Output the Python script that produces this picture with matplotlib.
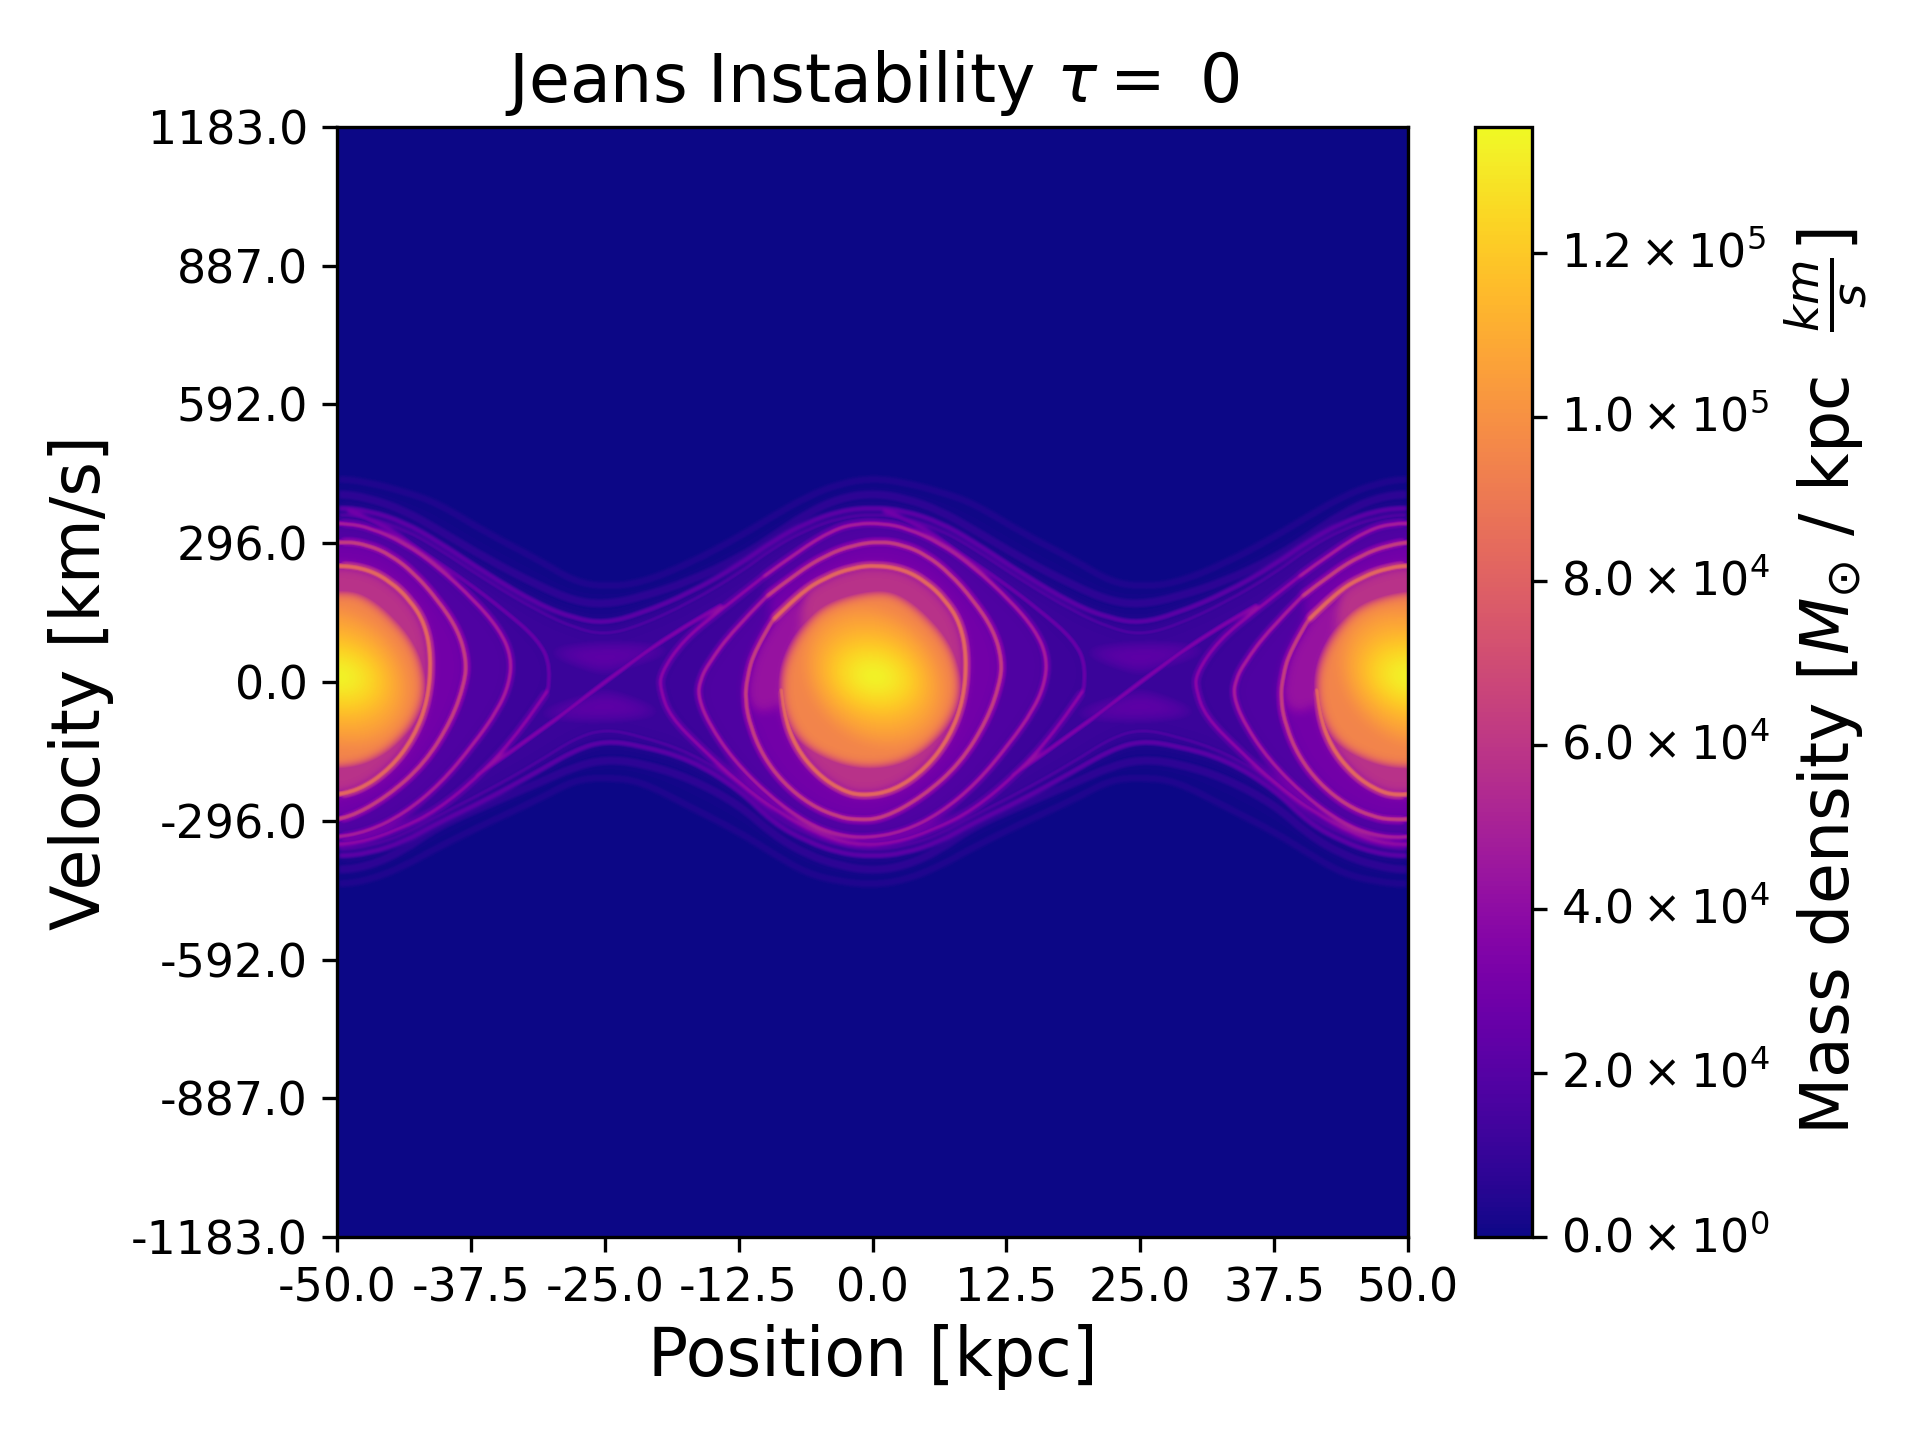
import numpy as np
import matplotlib
matplotlib.use('Agg')
import matplotlib.pyplot as plt
from matplotlib.path import Path
from matplotlib.patches import PathPatch, Ellipse
from matplotlib.transforms import ScaledTranslation

# spiral arm of the central island, one list per turn
turn0_x = [0.7,-4.3,-6.5,-8,-8.5,-8.3,-7.2,-5.2,-3,-1,2,5,7.2,8.5,8.8,8.2,6.8,5,2.9,0.4]
turn0_v = [185,157,104,47,-10,-67,-138,-195,-230,-243,-232,-184,-117,-38,54,125,175,214,240,249]
turn1_x = [0.4,-1.8,-4.3,-6.8,-9.3,-11,-11.7,-11.9,-11.4,-10.2,-8.3,-5.8,-3.3,-1.5,1,4.7,8.2,10.7,11.9,12.1,11.3,9.4,7.2,5,2.9,0.7]
turn1_v = [249,244,224,189,132,68,11,-38,-95,-159,-216,-262,-287,-294,-291,-244,-173,-81,-3,47,111,175,232,271,292,300]
turn2_x = [0.7,-1.8,-4.3,-7.1,-9.9,-13,-15.3,-16.1,-16.3,-15.3,-13,-9.6,-6.1,-3.3,-0.5,2.9,6.3,9.7,12.8,15,16.1,16.3,15.2,12.8,9.4,6.3,3.2,1]
turn2_v = [300,292,271,232,182,111,40,4,-31,-88,-166,-244,-301,-326,-333,-319,-280,-216,-131,-60,-3,54,111,175,246,296,328,338]
turn3_x = [1,-1.5,-3.7,-6.8,-10.2,-14.2,-17.7,-19.8,-19.8,-18.9,-15.8,-12.4,-8.6,-5.2,-1.8,1.9,5.7,9.4,13.5,17.2,19.7,20,18.8,15.6,11.9,8.2,4.7,1]
turn3_v = [338,338,324,281,224,153,89,18,-17,-74,-145,-216,-280,-323,-347,-344,-315,-273,-195,-102,-17,33,90,153,217,274,331,367]
trough_d = [5.8e4, 3.0e4, 1.8e4, 1.2e4]
ridge_d = [8.6e4, 6.8e4, 5.3e4, 4.3e4]
ridge_lw = [1.6, 1.4, 1.3, 1.2]
glow_lw = [3.0, 2.8, 2.6, 2.6]
glow_d = [6.5e4, 4.5e4, 3.2e4, 2.6e4]
turn3_end_d = 3.0e4
fade_x = [-6.8,-9.3,-11,-11.7,-11.9,-10.5,-8.3,-8,-6.5]
fade_v = [189,132,68,11,-38,-70,-50,47,104]
fade_d = 4.3e4

# core contours
core_edge_x = [0.7,-4.6,-7,-8.5,-8.9,-8.5,-7.1,-4.9,-1.7,1.6,4.2,6.3,7.8,8.5,8.3,7.4,5.7,3.2]
core_edge_v = [205,175,115,50,-10,-72,-130,-165,-190,-188,-165,-125,-76,-25,32,85,135,185]
core_edge_d = 9.5e4
core_d = [1.0e5,1.03e5,1.06e5,1.09e5,1.12e5,1.15e5,1.18e5,1.21e5,1.24e5,1.27e5,1.30e5,1.32e5,1.34e5]
core_w = [13,12.2,11.4,10.6,9.8,9,8.2,7.4,6.5,5.4,4.2,3,1.8]
core_h = [300,280,255,230,205,180,160,140,118,95,72,48,26]

# open wave bands, one period between two X points
wave_x = [-25,-21.7,-17,-12.4,-9.3,-6.1,-3,0,3,6.3,9.4,14,18.8,22.2,25]
wave0_up = [203,210,253,310,353,395,423,434,425,405,381,317,260,213,203]
wave0_lo = [-203,-210,-266,-320,-365,-408,-425,-432,-422,-392,-352,-300,-250,-208,-203]
wave1_up = [165,180,215,265,310,360,392,402,392,365,325,262,205,172,165]
wave1_lo = [-165,-172,-205,-262,-325,-368,-392,-402,-392,-358,-308,-262,-215,-180,-165]
wave2_up = [125,145,190,250,300,340,365,372,365,340,300,230,165,135,125]
wave2_lo = [-125,-135,-165,-230,-300,-340,-365,-372,-365,-340,-300,-250,-190,-145,-125]
wave3_up = [100,120,170,232,285,325,350,358,350,325,285,215,150,115,100]
wave3_lo = [-100,-115,-150,-215,-285,-325,-350,-358,-350,-325,-285,-232,-170,-120,-100]
wave_fill_d = [1.0e3, 2.0e3, 0.9e4, 1.1e4]
wave_line_d = [0.45e4, 0.8e4, 2.5e4, 2.2e4]
wave_lw = [1.6, 2.0, 1.2, 1.0]

# around the X point
streak_x = [-37,-31,-25,-19,-14]
streak_v = [-200,-105,0,100,165]
streak_d = 3.8e4
lobe_up_x = [-32,-28,-25,-21,-17,-20,-23,-25,-28]
lobe_up_v = [70,85,90,88,75,45,25,10,30]
lobe_lo_x = [-33,-29,-25,-22,-18,-22,-25,-27,-30]
lobe_lo_v = [-75,-88,-90,-85,-70,-30,-10,-25,-45]
lobe_d = 2.4e4

x_ticks = [-50,-37.5,-25,-12.5,0,12.5,25,37.5,50]
v_ticks = [-1183,-887,-592,-296,0,296,592,887,1183]
cbar_ticks = [0,2e4,4e4,6e4,8e4,1e5,1.2e5]
cbar_labels = [r'$0.0\times10^{0}$',r'$2.0\times10^{4}$',r'$4.0\times10^{4}$',r'$6.0\times10^{4}$',
               r'$8.0\times10^{4}$',r'$1.0\times10^{5}$',r'$1.2\times10^{5}$']
d_max = 1.354e5


def smooth(x, v, close=False):
    # quadratic spline using the read points as control points
    pts = np.column_stack([x, v]).astype(float)
    if close:
        n = len(pts)
        verts = [(pts[-1]+pts[0])/2]
        codes = [Path.MOVETO]
        for i in range(n):
            verts += [pts[i], (pts[i]+pts[(i+1) % n])/2]
            codes += [Path.CURVE3, Path.CURVE3]
        verts.append(verts[0])
        codes.append(Path.CLOSEPOLY)
        return Path(verts, codes)
    verts = [pts[0]]
    codes = [Path.MOVETO]
    for i in range(1, len(pts)-1):
        end = pts[i+1] if i == len(pts)-2 else (pts[i]+pts[i+1])/2
        verts += [pts[i], end]
        codes += [Path.CURVE3, Path.CURVE3]
    return Path(verts, codes)


def grey(d):
    g = d/d_max
    return (g, g, g)


def new_layer():
    f = plt.figure(figsize=(1071/300, 1110/300), dpi=300)
    a = f.add_axes([0, 0, 1, 1])
    a.set_xlim(-50, 50)
    a.set_ylim(-1183, 1183)
    a.set_facecolor('black')
    return f, a


def read_layer(f):
    f.canvas.draw()
    out = np.asarray(f.canvas.buffer_rgba())[:, :, 0]/255.0*d_max
    plt.close(f)
    return out


def blur(img, sigma):
    r = int(3*sigma)+1
    k = np.exp(-0.5*(np.arange(-r, r+1)/sigma)**2)
    k = k/k.sum()
    out = np.pad(img, r, mode='edge')
    out = np.apply_along_axis(lambda c: np.convolve(c, k, mode='same'), 0, out)
    out = np.apply_along_axis(lambda c: np.convolve(c, k, mode='same'), 1, out)
    return out[r:-r, r:-r]


turns_x = [turn0_x, turn1_x, turn2_x, turn3_x]
turns_v = [turn0_v, turn1_v, turn2_v, turn3_v]
ups = [wave0_up, wave1_up, wave2_up, wave3_up]
los = [wave0_lo, wave1_lo, wave2_lo, wave3_lo]
x_long = np.concatenate([np.array(wave_x[:-1])-50, np.array(wave_x[:-1]), np.array(wave_x)+50])


def arc(k, start, extra=5):
    # one turn of the arm, cut on the upper left where its density steps down
    if k == 3:
        return np.array(turns_x[k][start:]), np.array(turns_v[k][start:])
    return (np.array(turns_x[k][start:]+turns_x[k+1][1:extra]),
            np.array(turns_v[k][start:]+turns_v[k+1][1:extra]))


fill_fig, fill_ax = new_layer()
glow_fig, glow_ax = new_layer()
line_fig, line_ax = new_layer()
core_fig, core_ax = new_layer()
lobe_fig, lobe_ax = new_layer()

for k in range(4):
    up = np.concatenate([ups[k][:-1], ups[k][:-1], ups[k]])
    lo = np.concatenate([los[k][:-1], los[k][:-1], los[k]])
    xx = np.concatenate([x_long, x_long[::-1]])
    vv = np.concatenate([up, lo[::-1]])
    fill_ax.add_patch(PathPatch(smooth(xx, vv, close=True), fc=grey(wave_fill_d[k]), ec='none', zorder=1+k))
    for curve in (up, lo):
        line_ax.add_patch(PathPatch(smooth(x_long, curve), fc='none', ec=grey(wave_line_d[k]), lw=wave_lw[k]))

for shift in [-50, 0, 50]:
    for k in [3, 2, 1, 0]:
        ax_, av_ = arc(k, 2, 4) if k == 0 else arc(k, 4)
        fill_ax.add_patch(PathPatch(smooth(ax_+shift, av_, close=True), fc=grey(trough_d[k]), ec='none', zorder=9+(3-k)))
        bx_, bv_ = arc(k, 4)
        if k == 3:
            # the last stretch of the arm fades into the wave above it
            line_ax.add_patch(PathPatch(smooth(bx_[-8:]+shift, bv_[-8:]), fc='none', ec=grey(turn3_end_d), lw=ridge_lw[k]))
            glow_ax.add_patch(PathPatch(smooth(bx_[:-7]+shift, bv_[:-7]), fc='none', ec=grey(glow_d[k]), lw=glow_lw[k]))
            bx_, bv_ = bx_[:-7], bv_[:-7]
        else:
            glow_ax.add_patch(PathPatch(smooth(bx_+shift, bv_), fc='none', ec=grey(glow_d[k]), lw=glow_lw[k]))
        line_ax.add_patch(PathPatch(smooth(bx_+shift, bv_), fc='none', ec=grey(ridge_d[k]), lw=ridge_lw[k], zorder=5))
    fill_ax.add_patch(PathPatch(smooth(np.array(fade_x)+shift, fade_v, close=True), fc=grey(fade_d), ec='none', zorder=14))
    core_ax.add_patch(PathPatch(smooth(np.array(core_edge_x)+shift, core_edge_v, close=True),
                                fc=grey(core_edge_d), ec='none', zorder=15))
    for i in range(len(core_d)):
        core_ax.add_patch(Ellipse((0.2+shift, 12), core_w[i], core_h[i], angle=0.5, fc=grey(core_d[i]), ec='none', zorder=16+i))

for shift in [0, 50]:
    lobe_ax.add_patch(PathPatch(smooth(np.array(lobe_up_x)+shift, lobe_up_v, close=True), fc=grey(lobe_d), ec='none'))
    lobe_ax.add_patch(PathPatch(smooth(np.array(lobe_lo_x)+shift, lobe_lo_v, close=True), fc=grey(lobe_d), ec='none'))
    line_ax.add_patch(PathPatch(smooth(np.array(streak_x)+shift, streak_v), fc='none', ec=grey(streak_d), lw=1.2))

field = blur(read_layer(fill_fig), 5)
field = np.maximum(field, blur(read_layer(lobe_fig), 9))
field = np.maximum(field, blur(read_layer(glow_fig), 3))
field = np.maximum(field, blur(read_layer(line_fig), 1.6))
field = np.maximum(field, blur(read_layer(core_fig), 6))

fig = plt.figure(figsize=(6.4, 4.8), dpi=300)
ax = fig.add_axes([337/1920, 203/1440, 1071/1920, 1110/1440])
cax = fig.add_axes([1475/1920, 203/1440, 57/1920, 1110/1440])
im = ax.imshow(field, extent=[-50, 50, -1183, 1183], origin='upper', aspect='auto',
               cmap='plasma', vmin=0, vmax=d_max, interpolation='nearest')

ax.set_xticks(x_ticks)
ax.set_xticklabels(['%.1f' % t for t in x_ticks], fontsize=11)
ax.set_yticks(v_ticks)
ax.set_yticklabels(['%.1f' % t for t in v_ticks], fontsize=11)
ax.set_xlabel('Position [kpc]', fontsize=16, labelpad=3)
ax.set_ylabel('Velocity [km/s]', fontsize=16)
ax.set_title(r'Jeans Instability $\tau=$ 0', fontsize=16)

cb = fig.colorbar(im, cax=cax)
cb.set_ticks(cbar_ticks)
cb.set_ticklabels(cbar_labels, fontsize=11)
cb.set_label(r'Mass density [$M_{\odot}$ / kpc  $\frac{km}{s}$]', fontsize=16, labelpad=3)
up_shift = ScaledTranslation(0, 3/300, fig.dpi_scale_trans)
for lbl in cax.get_yticklabels():
    lbl.set_transform(lbl.get_transform()+up_shift)

fig.savefig('out.png', dpi=300)
